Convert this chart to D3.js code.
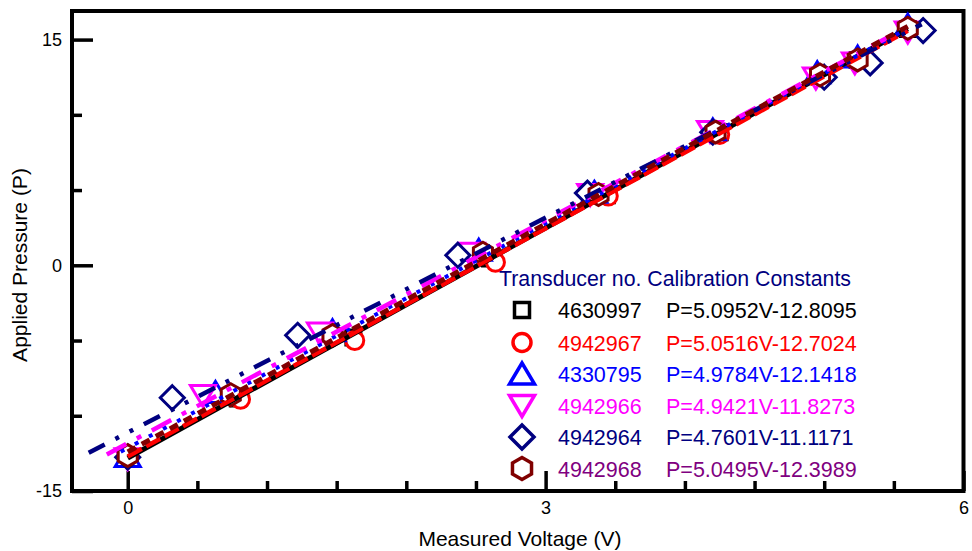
<!DOCTYPE html>
<html>
<head>
<meta charset="utf-8">
<script src="https://cdn.jsdelivr.net/npm/d3@7"></script>
<style>
  body { margin: 0; background: #fff; }
  text { font-family: "Liberation Sans", Arial, sans-serif; }
</style>
</head>
<body>
<div id="chart"></div>
<script>
// Transducer calibration data
const transducers = ["4630997", "4942967", "4330795", "4942966", "4942964", "4942968"];
const equations = ["P=5.0952V-12.8095", "P=5.0516V-12.7024", "P=4.9784V-12.1418",
                   "P=4.9421V-11.8273", "P=4.7601V-11.1171", "P=5.0495V-12.3989"];
const slopes = [5.0952, 5.0516, 4.9784, 4.9421, 4.7601, 5.0495];
const intercepts = [-12.8095, -12.7024, -12.1418, -11.8273, -11.1171, -12.3989];
const fitStart = [0, 0, -0.05, -0.15, -0.28, 0];
const fitEnd = [5.6, 5.6, 5.6, 5.6, 5.7, 5.6];

const volt4630997 = [0.01, 0.79, 1.62, 2.60, 3.44, 4.25, 4.97, 5.24, 5.60];
const pres4630997 = [-12.75, -8.85, -4.8, 0.45, 4.65, 8.85, 12.6, 13.65, 15.7];
const volt4942967 = [0.0, 0.81, 1.63, 2.64, 3.45, 4.25, 4.97, 5.23, 5.60];
const pres4942967 = [-12.7, -8.9, -5.0, 0.2, 4.6, 8.7, 12.55, 13.6, 15.75];
const volt4330795 = [0.0, 0.63, 1.47, 2.52, 3.35, 4.2, 4.95, 5.24, 5.60];
const pres4330795 = [-12.7, -8.45, -4.35, 1.0, 4.85, 9.0, 12.8, 13.85, 15.95];
const volt4942966 = [0.0, 0.54, 1.38, 2.47, 3.32, 4.18, 4.94, 5.22, 5.60];
const pres4942966 = [-12.85, -8.65, -4.5, 0.8, 4.7, 8.9, 12.45, 13.45, 15.5];
const volt4942964 = [0.0, 0.32, 1.22, 2.37, 3.30, 4.2, 5.0, 5.33, 5.71];
const pres4942964 = [-12.75, -8.8, -4.65, 0.67, 4.8, 8.85, 12.5, 13.45, 15.6];
const volt4942968 = [0.0, 0.74, 1.47, 2.55, 3.38, 4.22, 4.97, 5.24, 5.60];
const pres4942968 = [-12.65, -8.6, -4.66, 0.8, 4.7, 8.85, 12.65, 13.65, 15.75];

const voltages = [volt4630997, volt4942967, volt4330795, volt4942966, volt4942964, volt4942968];
const pressures = [pres4630997, pres4942967, pres4330795, pres4942966, pres4942964, pres4942968];

const xMajor = [0, 3, 6];
const xMinor = [0.5, 1, 1.5, 2, 2.5, 3.5, 4, 4.5, 5, 5.5];
const yMajor = [-15, 0, 15];
const yMinor = [-10, -5, 5, 10];

// styles
const markColors = ["#000000", "#ff0000", "#0000ff", "#ff00ff", "#000080", "#800000"];
const textColors = ["#000000", "#ff0000", "#0000ff", "#ff00ff", "#000080", "#800080"];
const shapes = ["square", "circle", "triangle", "triangleDown", "diamond", "hexagon"];
const dashes = [null, "16,5", "4,12", "22,12,5,12", "18,12,4,12,4,12", "9,7"];
const lineWidths = [5, 4.5, 4, 4.5, 4.5, 5];

const width = 972, height = 551;
const plotLeft = 72, plotRight = 963.5, plotTop = 11, plotBottom = 491;

const svg = d3.select("#chart").append("svg")
  .attr("width", width)
  .attr("height", height);

const x = d3.scaleLinear().domain([-0.4, 6]).range([plotLeft, plotRight]);
const y = d3.scaleLinear().domain([-15, 16.9]).range([plotBottom, plotTop]);

function markerPath(shape) {
  if (shape === "square") return "M-7.5,-7.5H7.5V7.5H-7.5Z";
  if (shape === "circle") return "M9,0A9,9 0 1,1 -9,0A9,9 0 1,1 9,0Z";
  if (shape === "triangle") return "M0,-11L12.5,10L-12.5,10Z";
  if (shape === "triangleDown") return "M-12.5,-10L12.5,-10L0,11Z";
  if (shape === "diamond") return "M0,-12L12,0L0,12L-12,0Z";
  // pointy-top hexagon
  const pts = d3.range(6).map(k => {
    const a = (-90 + 60 * k) * Math.PI / 180;
    return [11 * Math.cos(a), 11 * Math.sin(a)];
  });
  return "M" + pts.map(p => p.join(",")).join("L") + "Z";
}

const plainNum = d => String(d);

// axes (ticks inward)
const gx = svg.append("g").attr("transform", `translate(0,${plotBottom})`);
gx.call(d3.axisBottom(x).tickValues(xMinor).tickSizeInner(-10).tickSizeOuter(0).tickFormat(""));
gx.call(g => g.append("g").call(d3.axisBottom(x).tickValues(xMajor).tickSizeInner(-20).tickSizeOuter(0).tickPadding(10).tickFormat(plainNum)));

const gy = svg.append("g").attr("transform", `translate(${plotLeft},0)`);
gy.call(d3.axisLeft(y).tickValues(yMinor).tickSizeInner(-10).tickSizeOuter(0).tickFormat(""));
gy.call(g => g.append("g").call(d3.axisLeft(y).tickValues(yMajor).tickSizeInner(-21).tickSizeOuter(0).tickPadding(10).tickFormat(plainNum)));

svg.selectAll(".domain").remove();
svg.selectAll(".tick line").attr("stroke", "#000").attr("stroke-width", 3.5);
svg.selectAll(".tick text")
  .attr("fill", "#000")
  .style("font-size", "18px")
  .style("font-family", "'Liberation Sans', Arial, sans-serif");

// frame
svg.append("rect")
  .attr("x", plotLeft).attr("y", plotTop)
  .attr("width", plotRight - plotLeft).attr("height", plotBottom - plotTop)
  .attr("fill", "none").attr("stroke", "#000").attr("stroke-width", 4);

// markers
transducers.forEach((t, i) => {
  svg.append("g").selectAll("path")
    .data(voltages[i].map((v, j) => [v, pressures[i][j]]))
    .enter().append("path")
    .attr("d", markerPath(shapes[i]))
    .attr("transform", d => `translate(${x(d[0])},${y(d[1])})`)
    .attr("fill", "#fff")
    .attr("stroke", markColors[i])
    .attr("stroke-width", 3);
});

// fitted lines
const line = d3.line().x(d => x(d[0])).y(d => y(d[1]));
transducers.forEach((t, i) => {
  const pts = [fitStart[i], fitEnd[i]].map(v => [v, slopes[i] * v + intercepts[i]]);
  svg.append("path")
    .attr("d", line(pts))
    .attr("fill", "none")
    .attr("stroke", markColors[i])
    .attr("stroke-width", lineWidths[i])
    .attr("stroke-dasharray", dashes[i]);
});

// axis titles
svg.append("text")
  .attr("x", 520).attr("y", 546)
  .attr("text-anchor", "middle")
  .style("font-size", "21px")
  .text("Measured Voltage (V)");

svg.append("text")
  .attr("transform", "translate(27,265) rotate(-90)")
  .attr("text-anchor", "middle")
  .style("font-size", "21px")
  .text("Applied Pressure (P)");

// legend
const legend = svg.append("g");
legend.append("text")
  .attr("x", 499).attr("y", 286)
  .attr("fill", "#000080")
  .style("font-size", "21.3px")
  .text("Transducer no. Calibration Constants");

const rowBase = [318, 350.5, 382, 413.5, 445, 476.5];
transducers.forEach((t, i) => {
  legend.append("path")
    .attr("d", markerPath(shapes[i]))
    .attr("transform", `translate(522,${rowBase[i] - 8})`)
    .attr("fill", "#fff")
    .attr("stroke", markColors[i])
    .attr("stroke-width", 3.5);
  legend.append("text")
    .attr("x", 558).attr("y", rowBase[i])
    .attr("fill", textColors[i])
    .style("font-size", "21.5px")
    .text(t);
  legend.append("text")
    .attr("x", 666).attr("y", rowBase[i])
    .attr("fill", textColors[i])
    .style("font-size", "21.5px")
    .text(equations[i]);
});
</script>
</body>
</html>
